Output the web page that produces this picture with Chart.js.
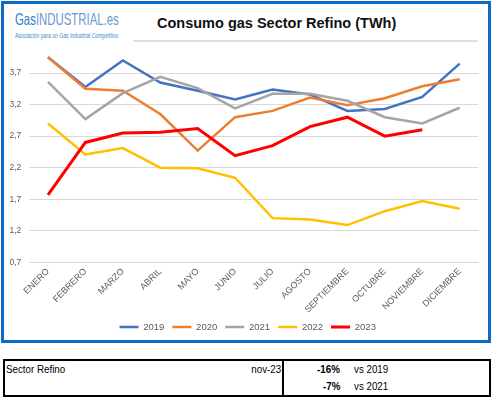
<!DOCTYPE html>
<html><head><meta charset="utf-8">
<script src="https://cdn.jsdelivr.net/npm/chart.js@4"></script>
<style>
html,body{margin:0;padding:0;background:#fff;width:493px;height:400px;overflow:hidden;font-family:"Liberation Sans",Arial,sans-serif;}
#box{position:absolute;left:1px;top:1px;width:490px;height:342px;box-sizing:border-box;border:3px solid #0a6cc4;}
#cw{position:absolute;left:0;top:0;width:493px;height:345px;}
#logo1{position:absolute;left:15px;top:11px;font-size:16.5px;line-height:17px;white-space:nowrap;transform:scaleX(0.69);transform-origin:0 0;}
#logo1 .g{color:#2f7cc9;}
#logo1 .i{color:#6a9bd0;}
#logo2{position:absolute;left:15px;top:32px;font-size:6.3px;color:#3f8cc8;white-space:nowrap;transform:scaleX(0.8);transform-origin:0 0;}
#title{position:absolute;left:157px;top:15px;font-size:14.5px;font-weight:bold;color:#111;white-space:nowrap;}
#rule{position:absolute;left:133px;top:40px;width:345px;height:2px;background:#e0e0e0;}
#tbl{position:absolute;left:3px;top:359px;width:488px;height:38px;box-sizing:border-box;border:2px solid #000;font-size:11.5px;color:#000;}
#div{position:absolute;left:277px;top:0;width:2px;height:100%;background:#000;}
.t{position:absolute;white-space:nowrap;transform:scaleX(0.85);}
.l{transform-origin:0 0;}
.r{transform-origin:100% 0;}
</style></head>
<body>
<div id="box"></div>
<div id="logo1"><span class="g">Gas</span><span class="i">INDUSTRIAL.es</span></div>
<div id="logo2">Asociación para un Gas Industrial Competitivo</div>
<div id="title">Consumo gas Sector Refino (TWh)</div>
<div id="rule"></div>
<div id="cw"><canvas id="c" width="493" height="345"></canvas></div>
<div id="tbl">
  <div id="div"></div>
  <div class="t l" style="left:1px;top:2px;">Sector Refino</div>
  <div class="t r" style="right:208px;top:2px;">nov-23</div>
  <div class="t r" style="right:149px;top:2px;font-weight:bold;">-16%</div>
  <div class="t l" style="left:349px;top:2px;">vs 2019</div>
  <div class="t r" style="right:149px;top:19px;font-weight:bold;">-7%</div>
  <div class="t l" style="left:349px;top:19px;">vs 2021</div>
</div>
<script>
const months = ["ENERO","FEBRERO","MARZO","ABRIL","MAYO","JUNIO","JULIO","AGOSTO","SEPTIEMBRE","OCTUBRE","NOVIEMBRE","DICIEMBRE"];
const years = ["2019","2020","2021","2022","2023"];
const v2019 = [3.95,3.48,3.90,3.55,3.42,3.28,3.44,3.36,3.10,3.13,3.32,3.85];
const v2020 = [3.95,3.45,3.42,3.05,2.47,3.00,3.10,3.31,3.19,3.30,3.49,3.60];
const v2021 = [3.56,2.97,3.38,3.64,3.46,3.14,3.37,3.37,3.26,3.00,2.90,3.15];
const v2022 = [2.90,2.41,2.51,2.20,2.19,2.04,1.40,1.38,1.29,1.51,1.67,1.55];
const v2023 = [1.77,2.60,2.75,2.76,2.82,2.39,2.55,2.85,3.00,2.70,2.80];
const yTicks = [0.7,1.2,1.7,2.2,2.7,3.2,3.7];
const colors = ["#4472C4","#ED7D31","#A5A5A5","#FFC000","#FF0000"];
const widths = [2.5,2.5,2.5,2.5,3];
const series = [v2019,v2020,v2021,v2022,v2023];
const FONT = "'Liberation Sans',Arial,sans-serif";

const shiftLegend = {
  id: 'shiftLegend',
  afterLayout(chart) {
    const lg = chart.legend;
    if (lg) { lg.left += 8.5; lg.right += 8.5; }
  }
};

new Chart(document.getElementById('c'), {
  type: 'line',
  data: {
    labels: months,
    datasets: series.map((d,i)=>({
      label: years[i], data: d, borderColor: colors[i], backgroundColor: colors[i],
      borderWidth: widths[i], pointRadius: 0, tension: 0, fill: false, order: 4 - i
    }))
  },
  plugins: [shiftLegend],
  options: {
    responsive: false, animation: false, devicePixelRatio: 1,
    layout: { padding: { left: 0, right: 14.6, top: 54.1, bottom: 3.25 } },
    plugins: {
      tooltip: { enabled: false },
      title: { display: false },
      legend: {
        position: 'bottom',
        labels: {
          usePointStyle: true, pointStyle: 'line', pointStyleWidth: 19,
          padding: 8, color: '#595959',
          font: { family: FONT, size: 9.5 },
          sort: (a,b) => a.datasetIndex - b.datasetIndex
        }
      }
    },
    scales: {
      x: {
        offset: true,
        grid: { display: false, drawTicks: false },
        border: { display: false },
        ticks: { autoSkip: false, minRotation: 45, maxRotation: 45, padding: 4, color: '#595959', font: { family: FONT, size: 9 } },
        afterFit: s => { s.height = 51.95; }
      },
      y: {
        min: 0.7, max: 4.0,
        grid: { color: '#d9d9d9', lineWidth: 1, drawTicks: false },
        border: { display: false },
        ticks: { padding: 8, color: '#595959', font: { family: FONT, size: 8.5 },
          callback: v => v.toFixed(1).replace('.', ',') },
        afterBuildTicks: s => { s.ticks = yTicks.map(v => ({ value: v })); },
        afterFit: s => { s.width = 29.25; }
      }
    }
  }
});
</script>
</body></html>
